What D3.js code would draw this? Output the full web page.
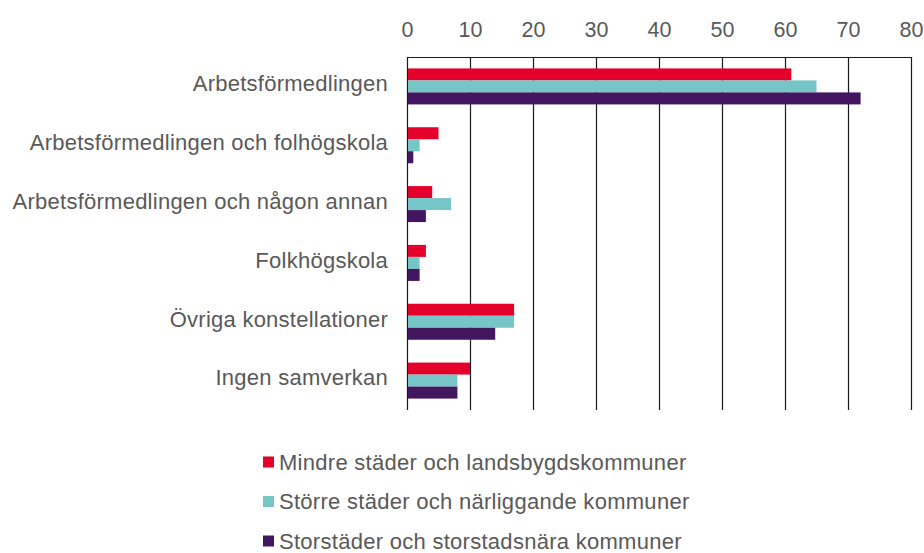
<!DOCTYPE html>
<html>
<head>
<meta charset="utf-8">
<script src="https://cdn.jsdelivr.net/npm/d3@7"></script>
<style>
  html, body { margin: 0; padding: 0; background: #fff; }
  text { font-family: "Liberation Sans", Arial, sans-serif; fill: #595959; }
</style>
</head>
<body>
<svg id="chart" width="924" height="553"></svg>
<script>
const categories = [
  "Arbetsförmedlingen",
  "Arbetsförmedlingen och folhögskola",
  "Arbetsförmedlingen och någon annan",
  "Folkhögskola",
  "Övriga konstellationer",
  "Ingen samverkan"
];
const seriesNames = [
  "Mindre städer och landsbygdskommuner",
  "Större städer och närliggande kommuner",
  "Storstäder och storstadsnära kommuner"
];
const mindre = [61, 5, 4, 3, 17, 10];
const storre = [65, 2, 7, 2, 17, 8];
const storstader = [72, 1, 3, 2, 14, 8];
const xTicks = [0, 10, 20, 30, 40, 50, 60, 70, 80];
const colors = ["#E4002B", "#76C6C8", "#43175F"];

const seriesValues = [mindre, storre, storstader];
const svg = d3.select("#chart");

const pLeft = 407, pRight = 911, pTop = 57, pBottom = 410;

const x = d3.scaleLinear().domain([0, 80]).range([pLeft, pRight]);
const y = d3.scaleBand().domain(categories).range([pTop, pBottom])
  .paddingInner(0.388).paddingOuter(0.194);
const ySub = d3.scaleBand().domain(seriesNames).range([0, y.bandwidth()]);

// gridlines
svg.append("g").selectAll("line").data(xTicks).join("line")
  .attr("x1", d => Math.round(x(d)) + 0.5).attr("x2", d => Math.round(x(d)) + 0.5)
  .attr("y1", pTop).attr("y2", pBottom)
  .attr("stroke", "#1a1a1a").attr("stroke-width", 1.2);

// top border
svg.append("line")
  .attr("x1", pLeft).attr("x2", Math.round(x(80)) + 1)
  .attr("y1", pTop + 0.5).attr("y2", pTop + 0.5)
  .attr("stroke", "#1a1a1a").attr("stroke-width", 1.2);

// top axis labels
const xAxis = d3.axisTop(x).tickValues(xTicks).tickSize(0).tickPadding(0);
const gx = svg.append("g").attr("transform", `translate(0,37)`).call(xAxis);
gx.select(".domain").remove();
gx.selectAll("text")
  .attr("font-size", "21.5px")
  .attr("dy", 0)
  .style("font-family", "'Liberation Sans', Arial, sans-serif")
  .attr("fill", "#595959");

// bars
seriesNames.forEach((s, si) => {
  svg.append("g").selectAll("rect").data(categories).join("rect")
    .attr("x", x(0) + 1)
    .attr("y", c => y(c) + ySub(s))
    .attr("width", (c, i) => x(seriesValues[si][i]) - x(0) - 1)
    .attr("height", ySub.bandwidth())
    .attr("fill", colors[si]);
});

// category labels
const yAxis = d3.axisLeft(y).tickSize(0).tickPadding(19);
const gy = svg.append("g").attr("transform", `translate(${pLeft},0)`).call(yAxis);
gy.select(".domain").remove();
gy.selectAll("text")
  .attr("font-size", "22px")
  .attr("dy", "0.22em")
  .style("font-family", "'Liberation Sans', Arial, sans-serif")
  .style("letter-spacing", "0.25px")
  .attr("fill", "#595959");

// legend
const legend = svg.append("g");
const rows = legend.selectAll("g").data(seriesNames).join("g")
  .attr("transform", (d, i) => `translate(263,${469.5 + i * 39.5})`);
rows.append("rect").attr("x", 0).attr("y", -13).attr("width", 11).attr("height", 11)
  .attr("fill", (d, i) => colors[i]);
rows.append("text").attr("x", 16).attr("y", 0)
  .attr("font-size", "22px")
  .style("letter-spacing", "0.28px")
  .text(d => d);
</script>
</body>
</html>
